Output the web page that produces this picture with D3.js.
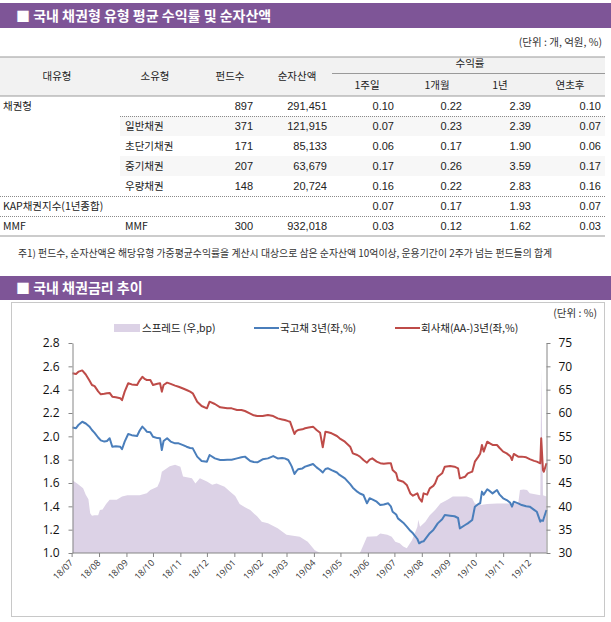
<!DOCTYPE html>
<html><head><meta charset="utf-8">
<script src="https://cdn.jsdelivr.net/npm/d3@7"></script>
<style>
body{margin:0;background:#fff;}
svg{display:block;font-family:"Noto Sans CJK KR","Noto Sans",sans-serif;}
</style>
</head><body>
<svg id="c" width="611" height="622"></svg>
<script>
// ---------- table data ----------
const title1 = "■ 국내 채권형 유형 평균 수익률 및 순자산액";
const unit1 = "(단위 : 개, 억원, %)";
const tableHeaders = ["대유형","소유형","펀드수","순자산액"];
const returnGroupLabel = "수익률";
const returnHeaders = ["1주일","1개월","1년","연초후"];
const majorTypes = ["채권형","","","","","KAP채권지수(1년종합)","MMF"];
const minorTypes = ["","일반채권","초단기채권","중기채권","우량채권","","MMF"];
const fundCounts = [897,371,171,207,148,null,300];
const netAssets = [291451,121915,85133,63679,20724,null,932018];
const ret1w = [0.10,0.07,0.06,0.17,0.16,0.07,0.03];
const ret1m = [0.22,0.23,0.17,0.26,0.22,0.17,0.12];
const ret1y = [2.39,2.39,1.90,3.59,2.83,1.93,1.62];
const retYtd = [0.10,0.07,0.06,0.17,0.16,0.07,0.03];
const note = "주1) 펀드수, 순자산액은 해당유형 가중평균수익률을 계산시 대상으로 삼은 순자산액 10억이상, 운용기간이 2주가 넘는 펀드들의 합계";

// ---------- chart data ----------
const title2 = "■ 국내 채권금리 추이";
const unit2 = "(단위 : %)";
const seriesNames = ["스프레드 (우,bp)","국고채 3년(좌,%)","회사채(AA-)3년(좌,%)"];
const leftTicks = [1.0,1.2,1.4,1.6,1.8,2.0,2.2,2.4,2.6,2.8];
const rightTicks = [30,35,40,45,50,55,60,65,70,75];

const lineDates = ["2018-07-02","2018-07-06","2018-07-09","2018-07-13","2018-07-17","2018-07-21","2018-07-24","2018-07-27","2018-07-31","2018-08-03",
"2018-08-07","2018-08-10","2018-08-13","2018-08-16","2018-08-20","2018-08-25","2018-08-27","2018-08-30","2018-09-03","2018-09-07",
"2018-09-13","2018-09-16","2018-09-19","2018-09-22","2018-09-24","2018-09-28","2018-10-01","2018-10-06","2018-10-09","2018-10-11",
"2018-10-13","2018-10-17","2018-10-21","2018-10-26","2018-10-30","2018-11-04","2018-11-08","2018-11-12","2018-11-15","2018-11-20",
"2018-11-25","2018-12-01","2018-12-04","2018-12-10","2018-12-16","2018-12-20","2018-12-24","2018-12-29","2019-01-04","2019-01-09",
"2019-01-13","2019-01-19","2019-01-23","2019-01-27","2019-02-02","2019-02-08","2019-02-14","2019-02-19","2019-02-24","2019-02-27",
"2019-03-03","2019-03-05","2019-03-07","2019-03-10","2019-03-12","2019-03-14","2019-03-19","2019-03-22","2019-03-26","2019-03-31",
"2019-04-04","2019-04-08","2019-04-11","2019-04-14","2019-04-17","2019-04-21","2019-04-27","2019-04-30","2019-05-06","2019-05-12",
"2019-05-15","2019-05-20","2019-05-23","2019-05-27","2019-05-31","2019-06-03","2019-06-06","2019-06-11","2019-06-15","2019-06-19",
"2019-06-24","2019-06-27","2019-06-29","2019-07-03","2019-07-05","2019-07-11","2019-07-15","2019-07-19","2019-07-22","2019-07-27",
"2019-07-29","2019-08-01","2019-08-03","2019-08-07","2019-08-10","2019-08-14","2019-08-16","2019-08-19","2019-08-24","2019-08-27",
"2019-09-02","2019-09-07","2019-09-11","2019-09-13","2019-09-19","2019-09-22","2019-09-27","2019-09-30","2019-10-04","2019-10-06",
"2019-10-08","2019-10-10","2019-10-14","2019-10-17","2019-10-20","2019-10-25","2019-10-28","2019-11-01","2019-11-05","2019-11-09",
"2019-11-11","2019-11-13","2019-11-18","2019-11-22","2019-11-27","2019-12-01","2019-12-06","2019-12-09","2019-12-13","2019-12-14",
"2019-12-16","2019-12-17","2019-12-20"];

const govt3y = [2.075,2.07,2.10,2.125,2.11,2.085,2.054,2.03,1.99,1.965,
1.955,1.96,1.983,1.911,1.915,1.911,1.889,1.954,2.02,2.01,
2.003,2.05,2.083,2.06,2.04,2.035,1.997,1.985,1.983,1.883,
1.96,1.983,1.955,1.94,1.94,1.925,1.911,1.90,1.897,1.826,
1.789,1.783,1.84,1.811,1.797,1.797,1.80,1.80,1.811,1.82,
1.826,1.789,1.78,1.777,1.803,1.811,1.831,1.811,1.815,1.811,
1.797,1.77,1.74,1.677,1.70,1.717,1.725,1.74,1.75,1.763,
1.734,1.711,1.69,1.72,1.726,1.71,1.69,1.669,1.64,1.59,
1.56,1.526,1.51,1.497,1.426,1.469,1.46,1.44,1.411,1.415,
1.426,1.40,1.354,1.33,1.297,1.26,1.226,1.19,1.169,1.12,
1.083,1.097,1.10,1.14,1.17,1.197,1.22,1.254,1.29,1.326,
1.32,1.315,1.30,1.211,1.24,1.254,1.283,1.397,1.42,1.426,
1.526,1.50,1.546,1.53,1.511,1.54,1.50,1.469,1.454,1.43,
1.397,1.44,1.425,1.411,1.40,1.397,1.37,1.354,1.269,1.28,
1.275,1.30,1.369];

const corpAA3y = [2.54,2.535,2.555,2.565,2.53,2.48,2.44,2.43,2.385,2.36,
2.365,2.37,2.372,2.34,2.335,2.326,2.31,2.383,2.455,2.445,
2.44,2.48,2.51,2.49,2.483,2.483,2.44,2.45,2.455,2.383,
2.44,2.46,2.45,2.435,2.425,2.41,2.397,2.383,2.369,2.297,
2.26,2.24,2.297,2.277,2.249,2.245,2.24,2.24,2.226,2.226,
2.217,2.195,2.18,2.174,2.174,2.183,2.174,2.154,2.145,2.14,
2.13,2.126,2.083,2.02,2.045,2.054,2.06,2.069,2.075,2.083,
2.054,2.03,1.906,2.04,2.035,2.026,2.003,1.983,1.954,1.911,
1.854,1.84,1.826,1.797,1.774,1.80,1.811,1.783,1.77,1.765,
1.77,1.77,1.711,1.683,1.626,1.611,1.583,1.511,1.491,1.511,
1.47,1.44,1.511,1.50,1.554,1.575,1.597,1.654,1.683,1.74,
1.746,1.74,1.726,1.64,1.654,1.683,1.697,1.783,1.826,1.85,
1.926,1.869,1.954,1.94,1.926,1.926,1.90,1.869,1.854,1.83,
1.797,1.849,1.826,1.826,1.82,1.805,1.79,1.783,1.769,1.983,
1.711,1.697,1.769];

const spreadDates = ["2018-07-02","2018-07-08","2018-07-14","2018-07-17","2018-07-20","2018-07-22","2018-07-24","2018-07-27","2018-07-31","2018-08-02",
"2018-08-05","2018-08-09","2018-08-13","2018-08-21","2018-08-27","2018-09-02","2018-09-16","2018-09-24","2018-09-28","2018-10-06",
"2018-10-09","2018-10-11","2018-10-20","2018-10-26","2018-11-01","2018-11-04","2018-11-14","2018-11-18","2018-11-23","2018-12-01",
"2018-12-07","2018-12-12","2018-12-21","2018-12-27","2019-01-02","2019-01-07","2019-01-13","2019-01-19","2019-01-27","2019-02-01",
"2019-02-08","2019-02-19","2019-03-01","2019-03-16","2019-03-25","2019-04-02","2019-04-08","2019-04-14","2019-04-25","2019-05-06",
"2019-05-17","2019-05-23","2019-05-27","2019-05-31","2019-06-11","2019-06-15","2019-06-23","2019-06-28","2019-07-02","2019-07-07",
"2019-07-11","2019-07-15","2019-07-21","2019-07-27","2019-07-28","2019-07-30","2019-08-05","2019-08-10","2019-08-16","2019-08-22",
"2019-08-30","2019-09-05","2019-09-13","2019-09-21","2019-09-27","2019-09-30","2019-10-06","2019-10-14","2019-10-25","2019-11-05",
"2019-11-12","2019-11-18","2019-11-20","2019-11-24","2019-11-28","2019-12-01","2019-12-13","2019-12-14","2019-12-16","2019-12-20"];

const spreadBp = [45.6,44.8,43.9,42.5,41.5,38.5,38.0,38.1,38.1,39.2,
39.3,40.5,41.4,41.4,42.1,42.4,42.4,42.8,43.5,44.2,
45.5,47.4,48.6,48.9,48.5,46.4,46.0,44.9,46.0,45.3,
44.6,44.9,44.2,43.2,42.2,40.5,39.8,39.2,37.8,36.7,
36.4,35.3,33.9,33.5,32.4,30.6,30.0,29.5,30.0,29.8,
29.5,30.0,31.7,33.5,33.6,34.2,33.9,33.5,32.4,32.1,
31.4,31.0,32.8,35.6,37.1,35.6,36.7,38.1,39.2,40.6,
41.4,42.1,42.1,42.1,41.7,40.6,40.3,40.5,40.6,40.6,
40.6,40.6,43.5,43.6,43.5,42.8,42.4,69.6,42.4,42.1];

// ---------- drawing ----------
const svg = d3.select("#c");
const purple = "#7e5597";

function titleBar(y, h, text){
  svg.append("rect").attr("x",0).attr("y",y).attr("width",611).attr("height",h).attr("fill",purple);
  svg.append("text").attr("x",16).attr("y",y+h/2+5).attr("fill","#fff")
    .attr("font-size",14).attr("font-weight","bold").text(text);
}

titleBar(3, 25, title1);
svg.append("text").attr("x",602).attr("y",46).attr("text-anchor","end")
  .attr("font-size",10.5).attr("fill","#333").text(unit1);

// table
const tTop = 57, hBot = 96, rowH = 20, tRight = 605;
svg.append("rect").attr("x",0).attr("y",tTop).attr("width",tRight).attr("height",hBot-tTop).attr("fill","#f2f2f2");
svg.append("line").attr("x1",0).attr("x2",tRight).attr("y1",tTop).attr("y2",tTop).attr("stroke","#9a9a9a").attr("stroke-width",1.2);
svg.append("line").attr("x1",0).attr("x2",tRight).attr("y1",hBot).attr("y2",hBot).attr("stroke","#9a9a9a").attr("stroke-width",1.2);
svg.append("line").attr("x1",332).attr("x2",tRight).attr("y1",73.5).attr("y2",73.5).attr("stroke","#9a9a9a");

const hx = [57,155,230,297];
const tfont = 10.5;
tableHeaders.forEach((h,i)=>{
  svg.append("text").attr("x",hx[i]).attr("y",80).attr("text-anchor","middle")
    .attr("font-size",tfont).attr("fill","#222").text(h);
});
svg.append("text").attr("x",470).attr("y",67).attr("text-anchor","middle").attr("font-size",tfont).attr("fill","#222").text(returnGroupLabel);
const rhx = [367,437,500,570];
returnHeaders.forEach((h,i)=>{
  svg.append("text").attr("x",rhx[i]).attr("y",89).attr("text-anchor","middle")
    .attr("font-size",tfont).attr("fill","#222").text(h);
});

const fmtInt = d3.format(",");
const fmtR = d3.format(".2f");
const numFont = '"Liberation Sans","Noto Sans CJK KR",sans-serif';
majorTypes.forEach((m,i)=>{
  const y0 = hBot + i*rowH;
  if(i===1 || i===3){
    svg.append("rect").attr("x",120).attr("y",y0).attr("width",tRight-120).attr("height",rowH).attr("fill","#f7f7f7");
  }
  const cy = y0 + rowH/2 + 4;
  if(m) svg.append("text").attr("x",3).attr("y",cy).attr("font-size",tfont).attr("fill","#222").text(m);
  if(minorTypes[i]) svg.append("text").attr("x",125).attr("y",cy).attr("font-size",tfont).attr("fill","#222").text(minorTypes[i]);
  const nums = [
    [253, fundCounts[i]==null?"":String(fundCounts[i])],
    [327, netAssets[i]==null?"":fmtInt(netAssets[i])],
    [394, fmtR(ret1w[i])],[462, fmtR(ret1m[i])],[531, fmtR(ret1y[i])],[601, fmtR(retYtd[i])]
  ];
  nums.forEach(([nx,t])=>{
    if(t) svg.append("text").attr("x",nx).attr("y",cy).attr("text-anchor","end")
      .attr("font-size",11).style("font-family",numFont).attr("fill","#222").text(t);
  });
});
// row separators
const dotted = (x1,y)=>svg.append("line").attr("x1",x1).attr("x2",tRight).attr("y1",y+0.5).attr("y2",y+0.5)
  .attr("stroke","#8a8a8a").attr("stroke-dasharray","1,1");
dotted(120, hBot+rowH);
dotted(0, hBot+5*rowH);
dotted(0, hBot+6*rowH);
svg.append("line").attr("x1",0).attr("x2",tRight).attr("y1",hBot+7*rowH).attr("y2",hBot+7*rowH).attr("stroke","#9a9a9a").attr("stroke-width",1.2);

svg.append("text").attr("x",18).attr("y",257).attr("font-size",9.9).attr("fill","#333").text(note);

titleBar(276, 24, title2);

// chart box
svg.append("rect").attr("x",11.5).attr("y",302.5).attr("width",593).attr("height",314).attr("fill","none").attr("stroke","#c8c8c8");
svg.append("text").attr("x",597).attr("y",317).attr("text-anchor","end").attr("font-size",10.5).attr("fill","#333").text(unit2);

const parse = d3.timeParse("%Y-%m-%d");
const lineData = lineDates.map((d,i)=>({date:parse(d), g:govt3y[i], c:corpAA3y[i]}));
const spreadData = spreadDates.map((d,i)=>({date:parse(d), v:spreadBp[i]}));

const pl = 72.5, pr = 546.5, pt = 343, pb = 553;
const x = d3.scaleTime().domain([parse("2018-07-02"), parse("2019-12-20")]).range([pl, pr]);
const yL = d3.scaleLinear().domain([1.0,2.8]).range([pb, pt]);
const yR = d3.scaleLinear().domain([30,75]).range([pb, pt]);

svg.append("clipPath").attr("id","pc").append("rect").attr("x",pl).attr("y",pt-10).attr("width",pr-pl).attr("height",pb-pt+10);

const g = svg.append("g");
g.append("path").datum(spreadData).attr("clip-path","url(#pc)")
  .attr("fill","#dcd2e6")
  .attr("d", d3.area().x(d=>x(d.date)).y0(pb).y1(d=>yR(d.v)));

g.append("path").datum(lineData).attr("fill","none").attr("stroke","#4a7ebb").attr("stroke-width",2).attr("stroke-linejoin","round")
  .attr("d", d3.line().x(d=>x(d.date)).y(d=>yL(d.g)));
g.append("path").datum(lineData).attr("fill","none").attr("stroke","#be4b48").attr("stroke-width",2).attr("stroke-linejoin","round")
  .attr("d", d3.line().x(d=>x(d.date)).y(d=>yL(d.c)));

const axisColor = "#868686";
const axFont = '"Open Sans","Noto Sans",sans-serif';
const ax1 = svg.append("g").attr("transform",`translate(${pl},0)`)
  .call(d3.axisLeft(yL).tickValues(leftTicks).tickFormat(d3.format(".1f")).tickSize(4).tickSizeOuter(0).tickPadding(9));
const ax2 = svg.append("g").attr("transform",`translate(${pr},0)`)
  .call(d3.axisRight(yR).tickValues(rightTicks).tickSize(4).tickSizeOuter(0).tickPadding(8));
const months = d3.timeMonth.range(parse("2018-07-01"), parse("2019-12-02"));
const ax3 = svg.append("g").attr("transform",`translate(0,${pb})`)
  .call(d3.axisBottom(x).tickValues(months).tickFormat(d3.timeFormat("%y/%m")).tickSize(4).tickSizeOuter(0));
[ax1,ax2,ax3].forEach(a=>{
  a.select(".domain").attr("stroke",axisColor);
  a.selectAll(".tick line").attr("stroke",axisColor);
  a.selectAll("text").style("font-family",axFont).attr("fill","#111");
});
ax1.selectAll("text").attr("font-size",12);
ax2.selectAll("text").attr("font-size",12);
ax3.select(".domain").attr("d",`M${pl},0H${pr}`);
ax3.selectAll(".tick text").attr("font-size",9).attr("fill","#333").attr("text-anchor","end")
  .attr("transform","translate(-2,4) rotate(-45)").attr("dy","0.35em").attr("y",4).attr("x",-2);

// legend
const ly = 328;
svg.append("rect").attr("x",114).attr("y",ly-4).attr("width",26).attr("height",8).attr("fill","#dcd2e6");
svg.append("text").attr("x",142).attr("y",ly+4).attr("font-size",10.5).attr("fill","#222").text(seriesNames[0]);
svg.append("line").attr("x1",254).attr("x2",279).attr("y1",ly).attr("y2",ly).attr("stroke","#4a7ebb").attr("stroke-width",2);
svg.append("text").attr("x",280).attr("y",ly+4).attr("font-size",10.5).attr("fill","#222").text(seriesNames[1]);
svg.append("line").attr("x1",395).attr("x2",420).attr("y1",ly).attr("y2",ly).attr("stroke","#be4b48").attr("stroke-width",2);
svg.append("text").attr("x",421).attr("y",ly+4).attr("font-size",10.5).attr("fill","#222").text(seriesNames[2]);
</script>
</body></html>
